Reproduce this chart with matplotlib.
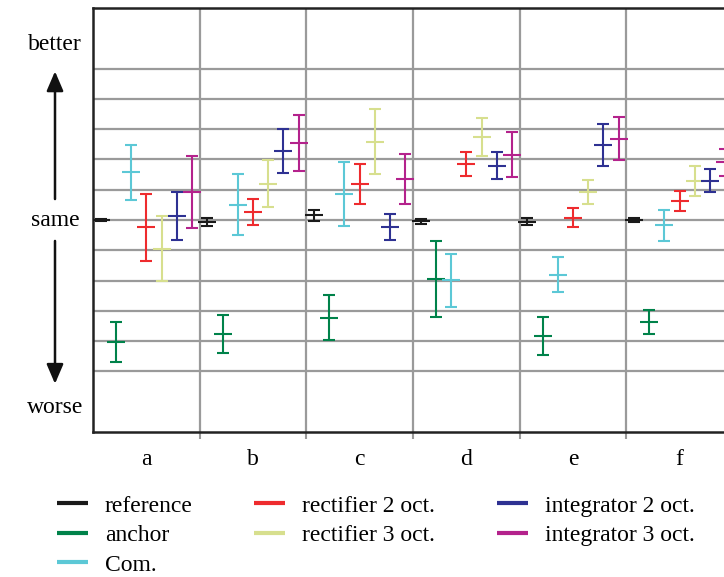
import numpy as np
import matplotlib.pyplot as plt
import matplotlib.transforms as mtransforms
from matplotlib.lines import Line2D

plt.rcParams['font.family'] = ['Liberation Serif', 'DejaVu Serif']
plt.rcParams['font.size'] = 17

# conditions (groups) and series
groups = ['a', 'b', 'c', 'd', 'e', 'f']
series = ['reference', 'anchor', 'Com.', 'rectifier 2 oct.', 'rectifier 3 oct.',
          'integrator 2 oct.', 'integrator 3 oct.']
colors = ['#1a1a1a', '#00824a', '#5cc8d6', '#ee2b2e', '#d7df8e', '#2e3192', '#b4228c']

# mean score per series for each group, in grid units
reference = [0.00, -0.06, 0.15, -0.04, -0.06, 0.00]
anchor = [-4.04, -3.76, -3.23, -1.94, -3.83, -3.37]
com = [1.57, 0.51, 0.86, -1.99, -1.81, -0.18]
rect2 = [-0.24, 0.27, 1.19, 1.85, 0.08, 0.63]
rect3 = [-0.95, 1.20, 2.59, 2.74, 0.93, 1.29]
int2 = [0.14, 2.28, -0.23, 1.79, 2.48, 1.29]
int3 = [0.92, 2.54, 1.36, 2.15, 2.69, 1.91]

# half-width of confidence intervals
reference_err = [0.02, 0.13, 0.18, 0.08, 0.12, 0.05]
anchor_err = [0.66, 0.63, 0.74, 1.25, 0.64, 0.41]
com_err = [0.90, 1.00, 1.05, 0.87, 0.58, 0.51]
rect2_err = [1.10, 0.43, 0.67, 0.39, 0.32, 0.34]
rect3_err = [1.08, 0.77, 1.07, 0.64, 0.40, 0.50]
int2_err = [0.79, 0.74, 0.44, 0.44, 0.70, 0.38]
int3_err = [1.18, 0.92, 0.83, 0.74, 0.70, 0.45]

means = [reference, anchor, com, rect2, rect3, int2, int3]
errs = [reference_err, anchor_err, com_err, rect2_err, rect3_err, int2_err, int3_err]

fig = plt.figure(figsize=(7.24, 5.77), dpi=100)
ax = fig.add_axes([93 / 724, 145 / 577, 640 / 724, 424 / 577])

n = len(series)
g = np.arange(len(groups))
for i in range(n):
    x = g + (i + 0.5) / n
    ax.errorbar(x, means[i], yerr=errs[i], fmt='_', color=colors[i],
                markersize=13, mew=1.5, elinewidth=1.5, capsize=4, capthick=1.5,
                zorder=3)

ax.set_xlim(0, len(groups))
ax.set_ylim(-7, 7)

# grid
gridc = '#9a9a9a'
for y in range(-5, 6):
    ax.axhline(y, color=gridc, lw=1.6, zorder=1)
for x in range(1, len(groups)):
    ax.axvline(x, color=gridc, lw=1.6, zorder=1)

ax.set_xticks(g + 0.5)
ax.set_xticklabels(groups)
ax.set_xticks(np.arange(1, len(groups)), minor=True)
ax.tick_params(axis='x', which='major', length=0, pad=12)
ax.tick_params(axis='x', which='minor', length=5, width=1.5, color=gridc)
ax.set_yticks([])
for s in ax.spines.values():
    s.set_linewidth(1.8)
    s.set_color('#222222')

# left "better / same / worse" scale
tr = mtransforms.blended_transform_factory(ax.transAxes, ax.transData)
xl = (55 - 93) / 640
ax.text(xl, 5.8, 'better', transform=tr, ha='center', va='center', clip_on=False)
ax.text(xl, -0.03, 'same', transform=tr, ha='center', va='center', clip_on=False)
ax.text(xl, -6.2, 'worse', transform=tr, ha='center', va='center', clip_on=False)
arrow = dict(arrowstyle='-|>,head_width=0.3,head_length=0.7', color='#111111', lw=1.8)
ax.annotate('', xy=(xl, 5.0), xytext=(xl, 0.6), xycoords=tr, textcoords=tr,
            arrowprops=arrow, annotation_clip=False)
ax.annotate('', xy=(xl, -5.5), xytext=(xl, -0.6), xycoords=tr, textcoords=tr,
            arrowprops=arrow, annotation_clip=False)

handles = [Line2D([], [], color=c, lw=3, solid_capstyle='butt') for c in colors]
fig.legend(handles, series, ncol=3, loc='upper left', bbox_to_anchor=(57 / 724, 1 - 495 / 577),
           frameon=False, handlelength=1.3, handletextpad=0.72, columnspacing=2.62,
           labelspacing=0.34, borderaxespad=0, borderpad=0)

fig.savefig('out.png', dpi=100)
